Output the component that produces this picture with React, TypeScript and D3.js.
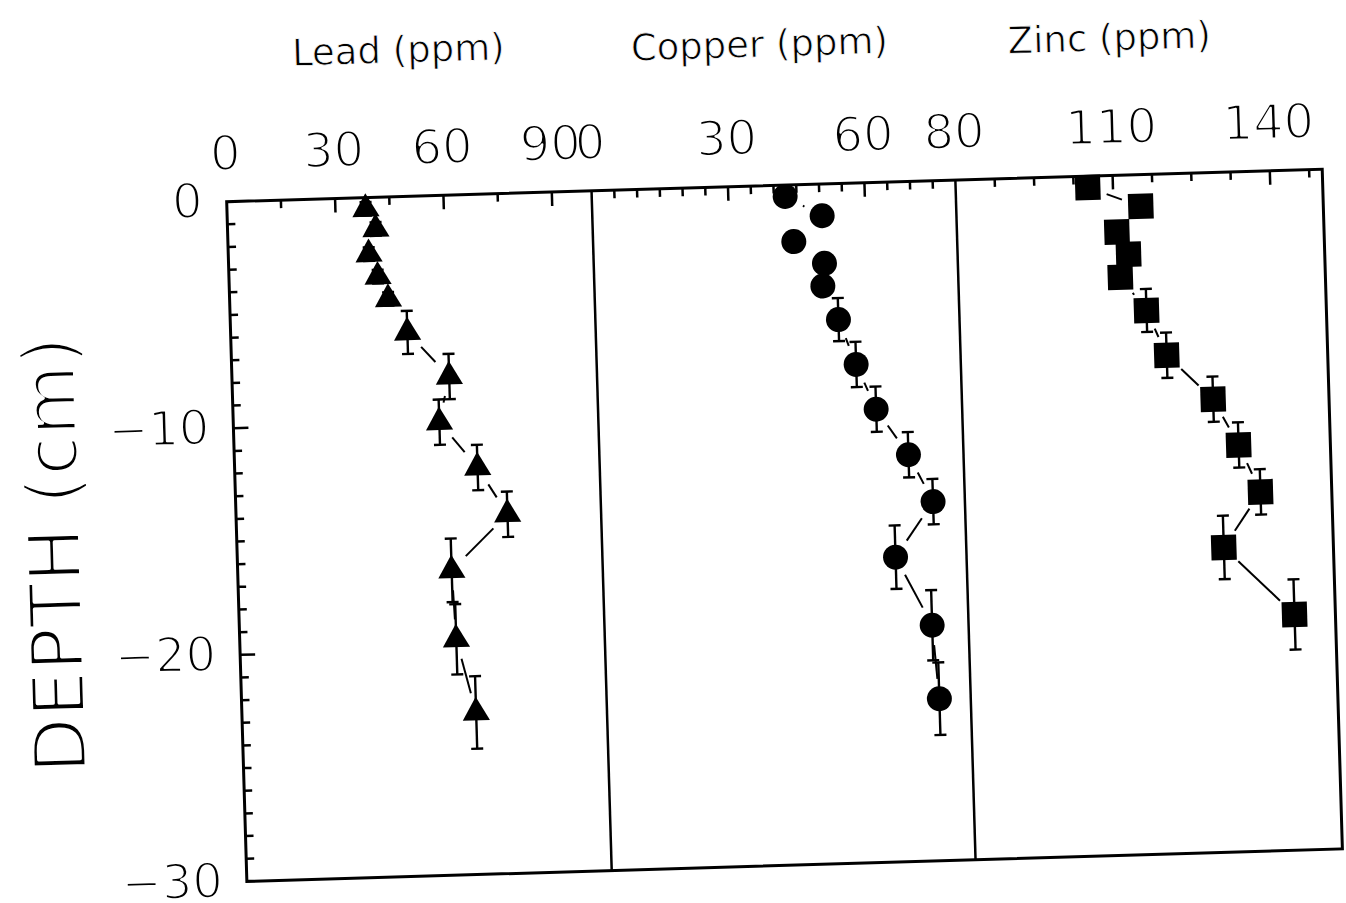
import * as d3 from "d3";

// sample depths (cm, negative = below surface) and half-interval of each sample
const depths = [-0.5, -1.4, -2.5, -3.5, -4.5, -6, -8, -10, -12.05, -14.15, -16.55, -19.6, -22.85];
const depthErr = [0.3, 0.3, 0.3, 0.3, 0.3, 0.95, 1, 1, 1, 1, 1.4, 1.55, 1.6];

const leadPpm = [38.4, 41.0, 38.9, 41.2, 43.9, 48.9, 60.1, 57.0, 67.2, 75.1, 59.2, 59.9, 64.8];
const copperPpm = [42.5, 50.5, 44.1, 50.7, 50.2, 53.4, 57.0, 61.1, 67.9, 73.0, 64.4, 72.0, 73.1];
const zincPpm = [105.2, 115.2, 110.5, 112.6, 110.9, 115.7, 119.3, 127.9, 132.5, 136.4, 129.1, 142.2];

const leadDomain = [0, 101];
const copperDomain = [0, 80];
const zincDomain = [80, 150];

const leadMinor = [15, 45, 75];
const leadMajor = [30, 60, 90];
const leadLabels = [0, 30, 60, 90];
const copperMinor = [5, 10, 15, 20, 25, 35, 40, 45, 50, 55, 65, 70, 75];
const copperMajor = [30, 60];
const copperLabels = [0, 30, 60, 80];
const zincMinor = [87.5, 95, 102.5, 117.5, 125, 132.5, 147.5];
const zincMajor = [110, 140];
const zincLabels = [110, 140];

const depthMinor = d3.range(-1, -30, -1).filter((d) => d % 10 !== 0);
const depthMajor = [-10, -20];
const depthLabels = [0, -10, -20, -30];

const W = 1346;
const H = 903;
// the scanned figure sits a little tilted on the page
const originX = 226.7;
const originY = 201.7;
const tilt = -1.7;
const plotH = 680;
const edges = [0, 365, 729, 1096];
const gap = 20;

const fmt = (v: number) => (v < 0 ? "\u2212" + Math.abs(v) : String(v));

// a white outline drawn over the glyphs thins them to the plotter-pen look
const thin = (w: number) => ({ stroke: "#fff", strokeWidth: w, strokeLinejoin: "round" as const });

const panels = [
  { title: "Lead (ppm)", domain: leadDomain, minor: leadMinor, major: leadMajor, labels: leadLabels, values: leadPpm, symbol: d3.symbolTriangle, size: 320, tx: 176, ty: -134 },
  { title: "Copper (ppm)", domain: copperDomain, minor: copperMinor, major: copperMajor, labels: copperLabels, values: copperPpm, symbol: d3.symbolCircle, size: 490, tx: 537, ty: -129 },
  { title: "Zinc (ppm)", domain: zincDomain, minor: zincMinor, major: zincMajor, labels: zincLabels, values: zincPpm, symbol: d3.symbolSquare, size: 640, tx: 887, ty: -125 },
];

export default function App() {
  const y = d3.scaleLinear().domain([0, -30]).range([0, plotH]);
  const right = edges[edges.length - 1];

  return (
    <svg
      width={W}
      height={H}
      style={{ position: "absolute", left: 0, top: 0, background: "#fff" }}
      fontFamily="'DejaVu Sans', sans-serif"
    >
      <g transform={`translate(${originX},${originY}) rotate(${tilt})`}>
        {/* frame */}
        <rect x={0} y={0} width={right} height={plotH} fill="none" stroke="#000" strokeWidth={3} />
        {edges.slice(1, -1).map((e) => (
          <line key={e} x1={e} x2={e} y1={0} y2={plotH} stroke="#000" strokeWidth={2.5} />
        ))}

        {/* depth axis */}
        {depthMinor.map((d) => (
          <line key={"m" + d} x1={0} x2={8} y1={y(d)} y2={y(d)} stroke="#000" strokeWidth={2.5} />
        ))}
        {depthMajor.map((d) => (
          <line key={"M" + d} x1={0} x2={15} y1={y(d)} y2={y(d)} stroke="#000" strokeWidth={2.5} />
        ))}
        {depthLabels.map((d) => (
          <text key={"l" + d} x={-24} y={y(d) + 15} textAnchor="end" fontSize={48} {...thin(2.2)}>
            {fmt(d)}
          </text>
        ))}
        <text
          transform={`translate(-157,348) rotate(-90)`}
          textAnchor="middle"
          fontSize={73}
          {...thin(3.4)}
        >
          DEPTH (cm)
        </text>

        {panels.map((p, i) => {
          const x = d3.scaleLinear().domain(p.domain).range([edges[i], edges[i + 1]]);
          const pts = p.values.map((v, j) => ({ x: x(v), y: y(depths[j]), e: depthErr[j] }));
          const marker = d3.symbol(p.symbol, p.size)() || "";
          return (
            <g key={p.title}>
              <text x={p.tx} y={p.ty} textAnchor="middle" fontSize={37} {...thin(0.8)}>
                {p.title}
              </text>
              {p.minor.map((t) => (
                <line key={"m" + t} x1={x(t)} x2={x(t)} y1={0} y2={8} stroke="#000" strokeWidth={2.5} />
              ))}
              {p.major.map((t) => (
                <line key={"M" + t} x1={x(t)} x2={x(t)} y1={0} y2={14} stroke="#000" strokeWidth={2.5} />
              ))}
              {p.labels.map((t) => (
                <text key={"l" + t} x={x(t)} y={-32} textAnchor="middle" fontSize={48} {...thin(2.2)}>
                  {t}
                </text>
              ))}
              {/* connecting line, broken around each marker */}
              {pts.slice(1).map((b, j) => {
                const a = pts[j];
                const dx = b.x - a.x;
                const dy = b.y - a.y;
                const len = Math.hypot(dx, dy);
                if (len <= 2 * gap) return null;
                const ux = dx / len;
                const uy = dy / len;
                return (
                  <line
                    key={"s" + j}
                    x1={a.x + ux * gap}
                    y1={a.y + uy * gap}
                    x2={b.x - ux * gap}
                    y2={b.y - uy * gap}
                    stroke="#000"
                    strokeWidth={2}
                  />
                );
              })}
              {/* depth interval bars */}
              {pts.map((d, j) => {
                const y0 = y(depths[j] + d.e);
                const y1 = y(depths[j] - d.e);
                return (
                  <g key={"e" + j} stroke="#000" strokeWidth={2.4}>
                    <line x1={d.x} x2={d.x} y1={y0} y2={y1} />
                    <line x1={d.x - 6} x2={d.x + 6} y1={y0} y2={y0} />
                    <line x1={d.x - 6} x2={d.x + 6} y1={y1} y2={y1} />
                  </g>
                );
              })}
              {pts.map((d, j) => (
                <path key={"p" + j} d={marker} transform={`translate(${d.x},${d.y})`} fill="#000" />
              ))}
            </g>
          );
        })}
      </g>
    </svg>
  );
}
